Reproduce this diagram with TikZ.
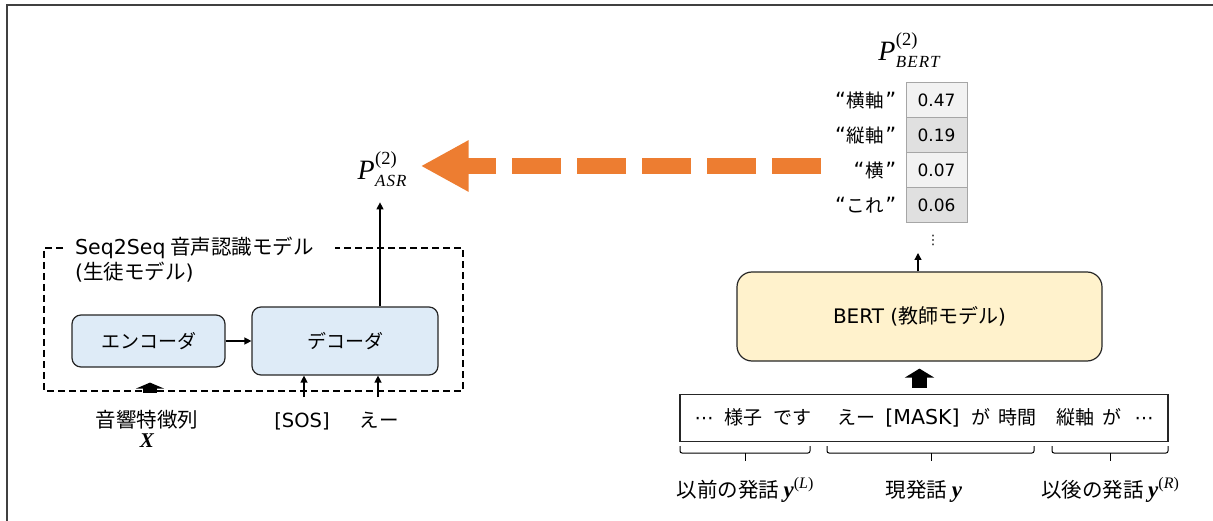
\documentclass[tikz,border=0pt]{standalone}
\usepackage{fontspec}
\setmainfont{Noto Sans CJK JP}
\newfontfamily\lat{DejaVu Sans}
\newfontfamily\mth{Liberation Serif}
\usetikzlibrary{arrows.meta,calc}
\definecolor{framegray}{HTML}{404040}
\definecolor{encfill}{HTML}{DEEBF7}
\definecolor{bertfill}{HTML}{FFF2CC}
\definecolor{orng}{HTML}{ED7D31}
\definecolor{cellA}{HTML}{F2F2F2}
\definecolor{cellB}{HTML}{E0E0E0}
\definecolor{cellline}{HTML}{A6A6A6}
\newcommand{\tokw}[2]{\makebox[#1pt][c]{#2}}
\newcommand{\probP}[2]{{\mth\itshape\fontsize{28}{30}\selectfont P}\kern0.5pt\makebox[0pt][l]{\raisebox{15pt}{\mth\fontsize{18.5}{19}\selectfont (2)}}\raisebox{-7pt}{\mth\itshape\fontsize{17}{17}\selectfont\addfontfeature{LetterSpace=6}#2}}
\newcommand{\bfy}{{\mth\bfseries\itshape\fontsize{23}{24}\selectfont y}}
\newcommand{\supr}[1]{\raisebox{9pt}{\mth\fontsize{16}{16}\selectfont(\textit{#1})}}
\tikzset{
  jp/.style={font=\fontsize{19}{24}\selectfont},
  modelbox/.style={draw=black!85, line width=1.2pt, rounded corners=9pt, fill=encfill, jp},
  arr/.style={line width=1.3pt, -{Triangle[length=7pt,width=7pt]}},
  blkarrow/.style={line width=14pt, -{Triangle[length=6pt,width=28pt]}},
  cell/.style={draw=cellline, line width=1pt, minimum width=61pt, minimum height=35pt, inner sep=0pt, font=\lat\fontsize{17}{20}\selectfont},
  qlabel/.style={anchor=east, inner sep=0pt, font=\fontsize{18.5}{20}\selectfont},
  bracepath/.style={line width=1pt, rounded corners=2pt},
  mathlabel/.style={inner sep=0pt},
  undertext/.style={anchor=base, inner sep=0pt, font=\fontsize{20.5}{24}\selectfont},
}
\newcommand{\oq}{{\lat\fontsize{21}{20}\selectfont “\kern1pt}}
\newcommand{\cq}{{\lat\fontsize{21}{20}\selectfont\kern1.5pt”}}
\begin{document}
\begin{tikzpicture}[x=1pt,y=-1pt]
\useasboundingbox (0,0) rectangle (1213,521);
\clip (0,0) rectangle (1213,521);
\draw[framegray, line width=1.5pt] (7,5) rectangle (1260,560);

% ---------- student model ----------
\draw[line width=1.1pt, dash pattern=on 7pt off 4pt] (63,248) -| (44,391) -| (463,248) -- (335,248);
\node[anchor=base west, inner sep=0pt, font=\fontsize{20.5}{24}\selectfont] (title1) at (75,255) {{\lat Seq2Seq} 音声認識モデル};
\node[anchor=base west, inner sep=0pt, font=\fontsize{20.5}{24}\selectfont] (title2) at (75,280) {{\lat (}生徒モデル{\lat )}};

\node[modelbox, minimum width=153pt, minimum height=52pt] (enc) at (148.5,341) {エンコーダ};
\node[modelbox, minimum width=186pt, minimum height=68pt] (dec) at (345,341) {デコーダ};
\draw[arr] (enc.east) -- (dec.west |- enc.east);

\node[anchor=base, inner sep=0pt, font=\fontsize{20.5}{24}\selectfont] (feat) at (147,427) {音響特徴列};
\node[anchor=base, inner sep=0pt, font=\mth\bfseries\itshape\fontsize{21}{24}\selectfont] (featx) at (147,447) {X};
\coordinate (xin) at (150,393);
\draw[blkarrow] (xin) -- ($(enc.south -| xin)+(0,15)$);

\node[anchor=base, inner sep=0pt, font=\lat\fontsize{19.5}{24}\selectfont] (sos) at (302,427) {[SOS]};
\node[anchor=base, inner sep=0pt, font=\fontsize{19.5}{24}\selectfont] (ee) at (379,427) {えー};
\coordinate (sosin) at (304,397);
\coordinate (eein) at (378,397);
\draw[arr] (sosin) -- (sosin |- dec.south);
\draw[arr] (eein) -- (eein |- dec.south);

\node[mathlabel, anchor=base] (pasr) at (382,180) {\probP{(2)}{ASR}};
\draw[arr, shorten >=15pt] (dec.north -| 380,0) -- (pasr.south -| 380,0);

% ---------- teacher ----------
\node[anchor=base, mathlabel] (pbert) at (909,61) {\probP{(2)}{BERT}};

\node[cell, fill=cellA] (c1) at (936.5,100) {0.47};
\node[cell, fill=cellB] (c2) at (936.5,135) {0.19};
\node[cell, fill=cellA] (c3) at (936.5,170) {0.07};
\node[cell, fill=cellB] (c4) at (936.5,205) {0.06};
\node[qlabel] (l1) at ($(c1.west)+(-9,0)$) {\oq 横軸\cq};
\node[qlabel] (l2) at ($(c2.west)+(-9,0)$) {\oq 縦軸\cq};
\node[qlabel] (l3) at ($(c3.west)+(-9,0)$) {\oq 横\cq};
\node[qlabel] (l4) at ($(c4.west)+(-9,0)$) {\oq これ\cq};
\node[inner sep=0pt, font=\lat\fontsize{13}{13}\selectfont] (vd) at (933,240) {⋮};

\coordinate (oastart) at (821,166);
\draw[orng, line width=16pt, dash pattern=on 49pt off 16pt, -{Triangle[length=48pt,width=48pt]}] (oastart) -- ($(oastart -| pasr.east)+(14,0)$);

\node[draw=black!85, line width=1.2pt, rounded corners=15pt, fill=bertfill, minimum width=365pt, minimum height=89pt, font=\fontsize{20}{24}\selectfont] (bert) at (919.5,316.5) {{\lat BERT (}教師モデル{\lat )}};
\coordinate (bertout) at (918,253);
\draw[arr] (bertout |- bert.north) -- (bertout);

\node[draw=black!85, line width=1.2pt, minimum width=488pt, minimum height=47pt, inner sep=0pt, font=\fontsize{19}{24}\selectfont] (tok) at (924,418) {\tokw{17}{\lat ⋯}\hspace{12pt}\tokw{38}{様子}\hspace{11pt}\tokw{38}{です}\hspace{26pt}\tokw{38}{えー}\hspace{8pt}\tokw{78}{\lat\fontsize{20.5}{24}\selectfont[MASK]}\hspace{10pt}\tokw{19}{が}\hspace{8pt}\tokw{38}{時間}\hspace{20pt}\tokw{38}{縦軸}\hspace{8pt}\tokw{19}{が}\hspace{14pt}\tokw{17}{\lat ⋯}};
\draw[line width=15pt, -{Triangle[length=9pt,width=29pt]}] ($(tok.north -| bert.south)+(0,-6)$) -- ($(bert.south)+(0,7)$);

% braces
\draw[bracepath] (680,446) -- (680,453) -- (810,453) -- (810,446);
\draw[line width=1pt] (745,453) -- (745,461);
\draw[bracepath] (827,446) -- (827,453) -- (1034,453) -- (1034,446);
\draw[line width=1pt] (931,453) -- (931,461);
\draw[bracepath] (1052,446) -- (1052,453) -- (1168,453) -- (1168,446);
\draw[line width=1pt] (1110,453) -- (1110,461);

\node[undertext] (lprev) at (745,497) {以前の発話 \bfy\supr{L}};
\node[undertext] (lcur) at (924,497) {現発話 \bfy};
\node[undertext] (lnext) at (1110,497) {以後の発話 \bfy\supr{R}};
\end{tikzpicture}
\end{document}
